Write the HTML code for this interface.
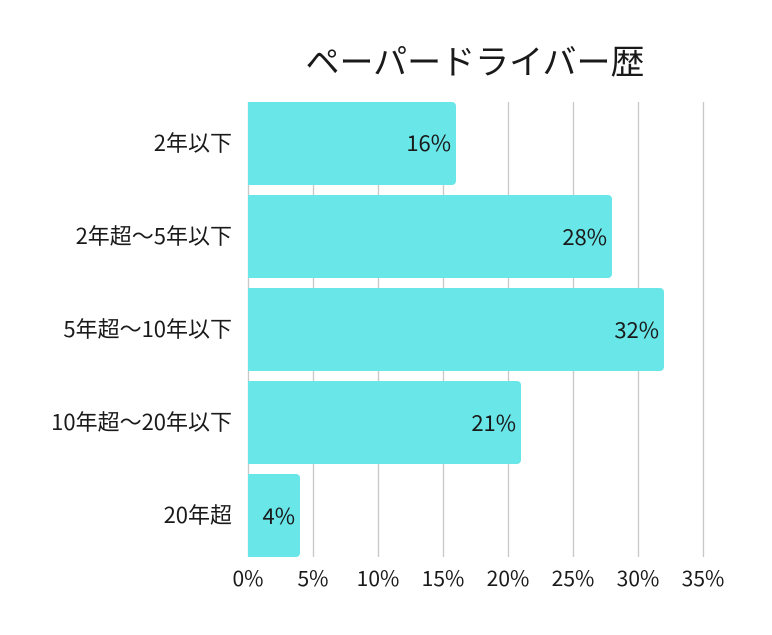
<!DOCTYPE html><html><head><meta charset="utf-8"><style>
body{margin:0;background:#fff;width:772px;height:630px;overflow:hidden}
text{font-family:"Noto Sans CJK JP","Liberation Sans",sans-serif;fill:#1a1a1a}
</style></head><body>
<svg width="772" height="630" xmlns="http://www.w3.org/2000/svg">
<text x="475" y="74" font-size="34" text-anchor="middle">ペーパードライバー歴</text>
<g stroke="#c8c8c8" stroke-width="1.3">
<line x1="248.5" y1="102" x2="248.5" y2="557"/>
<line x1="313.5" y1="102" x2="313.5" y2="557"/>
<line x1="378.5" y1="102" x2="378.5" y2="557"/>
<line x1="443.5" y1="102" x2="443.5" y2="557"/>
<line x1="508.5" y1="102" x2="508.5" y2="557"/>
<line x1="573.5" y1="102" x2="573.5" y2="557"/>
<line x1="638.5" y1="102" x2="638.5" y2="557"/>
<line x1="703.5" y1="102" x2="703.5" y2="557"/>
</g>
<g fill="#69e6e8">
<path d="M248 102H452a4 4 0 0 1 4 4V181a4 4 0 0 1-4 4H248Z"/>
<path d="M248 195H608a4 4 0 0 1 4 4V274a4 4 0 0 1-4 4H248Z"/>
<path d="M248 288H660a4 4 0 0 1 4 4V367a4 4 0 0 1-4 4H248Z"/>
<path d="M248 381H517a4 4 0 0 1 4 4V460a4 4 0 0 1-4 4H248Z"/>
<path d="M248 474H296a4 4 0 0 1 4 4V553a4 4 0 0 1-4 4H248Z"/>
</g>
<g font-size="22" text-anchor="end">
<text x="451" y="151">16%</text>
<text x="607" y="245">28%</text>
<text x="659" y="338">32%</text>
<text x="516" y="431">21%</text>
<text x="295" y="524">4%</text>
</g>
<g font-size="22" text-anchor="end">
<text x="232" y="151">2年以下</text>
<text x="232" y="244">2年超～5年以下</text>
<text x="232" y="337">5年超～10年以下</text>
<text x="232" y="430">10年超～20年以下</text>
<text x="232" y="523">20年超</text>
</g>
<g font-size="21" text-anchor="middle">
<text x="248" y="586">0%</text><text x="313" y="586">5%</text><text x="378" y="586">10%</text><text x="443" y="586">15%</text><text x="508" y="586">20%</text><text x="573" y="586">25%</text><text x="638" y="586">30%</text><text x="703" y="586">35%</text>
</g>
</svg></body></html>
